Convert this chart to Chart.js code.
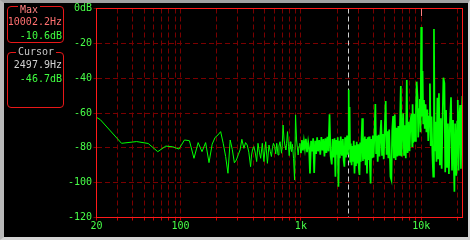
<!DOCTYPE html>
<html><head><meta charset="utf-8">
<script src="https://cdn.jsdelivr.net/npm/chart.js@4"></script>
<style>
html,body{margin:0;padding:0;background:#000;}
#wrap{position:relative;width:470px;height:240px;background:#000;overflow:hidden;font-family:"DejaVu Sans Mono",monospace;font-size:10px;}
#c{position:absolute;left:0;top:0;}
#frame{position:absolute;left:0;top:0;width:470px;height:240px;box-sizing:border-box;border-top:3px solid #a0a0a0;border-left:4px solid #b8b8b8;border-right:2px solid #d4d4d4;border-bottom:3px solid #d4d4d4;pointer-events:none;}
.box{position:absolute;box-sizing:border-box;border:1px solid #e81818;border-radius:4px;}
.ttl{position:absolute;background:#000;padding:0 2px;line-height:12px;white-space:nowrap;}
.ln{position:absolute;right:1px;line-height:12px;white-space:nowrap;}
</style></head>
<body>
<div id="wrap">
  <canvas id="c" width="470" height="240"></canvas>
  <div class="box" style="left:7px;top:6px;width:57px;height:37px;">
    <span class="ttl" style="left:10px;top:-3.5px;color:#ff8080">Max</span>
    <div class="ln" id="maxF" style="top:8.5px;color:#ff7070"></div>
    <div class="ln" id="maxL" style="top:22.5px;color:#40ff40"></div>
  </div>
  <div class="box" style="left:7px;top:52px;width:57px;height:56px;">
    <span class="ttl" style="left:8px;top:-7px;color:#c8c8c8">Cursor</span>
    <div class="ln" id="curF" style="top:5.5px;color:#d0d0d0"></div>
    <div class="ln" id="curL" style="top:19.5px;color:#40ff40"></div>
  </div>
  <div id="frame"></div>
</div>
<script>
// ---- readouts ----
const maxHz = 10002.2, maxDb = -10.6;
const cursorHz = 2497.9, cursorDb = -46.7;

// ---- axes ----
const xMinHz = 20, xMaxHz = 22050;
const yMinDb = -120, yMaxDb = 0, yStepDb = 20;
const xGridHz = [20,30,40,50,60,70,80,90,100,200,300,400,500,600,700,800,900,
  1000,2000,3000,4000,5000,6000,7000,8000,9000,10000,20000];
const xLabelHz = [20, 100, 1000, 10000];
const xLabelText = ['20', '100', '1k', '10k'];
const yLabelDb = [0, -20, -40, -60, -80, -100, -120];
const yLabelText = ['0dB', '-20', '-40', '-60', '-80', '-100', '-120'];

// ---- spectrum: 20 Hz - 1 kHz ----
const lowHz = [20, 21.5, 32.3, 43.1, 53.8, 64.6, 75.4, 86.1, 96.9, 107.7,
 118.4, 129.2, 140, 150.7, 161.5, 172.3, 183, 193.8, 204.6, 215.3,
 226.1, 236.9, 247.6, 258.4, 269.2, 280, 290.7, 301.5, 312.3, 323,
 336, 347, 358, 369, 382, 389, 398, 407, 418, 429,
 440, 452, 463, 478, 493, 510, 527, 543, 556, 569,
 580, 591, 606, 618, 630, 646, 657, 671, 690, 700,
 711, 725, 738, 749, 761, 774, 789, 800, 814, 825,
 836, 850, 869, 886, 903, 921, 935, 949, 965, 981];
const lowDb = [-62.5, -63.8, -77.4, -76.4, -77.5, -82.2, -79.0, -79.4, -80.7, -75.5,
 -75.9, -86.0, -77.0, -82.2, -77.0, -88.5, -77.9, -74.0, -72.6, -70.7,
 -77.4, -85.0, -94.6, -75.5, -81.0, -88.6, -87.0, -84.0, -81.2, -75.1,
 -80.3, -77.0, -78.4, -82.5, -90.8, -84.1, -80.5, -79.3, -83.0, -87.9,
 -77.4, -82.5, -86.0, -77.4, -87.9, -76.5, -88.9, -78.4, -82.0, -85.0,
 -80.0, -77.4, -79.3, -83.5, -77.4, -84.1, -79.0, -76.5, -83.1, -78.5,
 -66.9, -75.5, -79.0, -81.2, -77.5, -70.7, -79.3, -84.5, -76.5, -80.5,
 -82.2, -78.0, -86.0, -98.5, -61.1, -75.5, -80.0, -84.1, -79.0, -77.4];

// ---- spectrum: 1 kHz - 4.2 kHz ----
const midHz = [1000, 1020, 1040, 1060, 1080, 1100, 1125, 1150, 1170, 1190,
 1215, 1240, 1265, 1290, 1315, 1340, 1365, 1390, 1420, 1450,
 1480, 1510, 1540, 1570, 1600, 1630, 1660, 1695, 1730, 1765,
 1806, 1835, 1870, 1905, 1936, 1965, 1995, 2025, 2052, 2080,
 2105, 2145, 2190, 2235, 2265, 2300, 2330, 2370, 2420, 2460,
 2480, 2497.9, 2515, 2540, 2570, 2600, 2640, 2670, 2710, 2750,
 2791, 2835, 2870, 2910, 2950, 2990, 3030, 3072, 3110, 3150,
 3190, 3236, 3280, 3320, 3360, 3400, 3450, 3500, 3544, 3590,
 3640, 3690, 3740, 3798, 3850, 3900, 3960, 4020, 4080, 4160];
const midDb = [-83.0, -75.5, -81.5, -76.0, -80.5, -74.8, -82.5, -76.5, -80.0, -94.7,
 -76.0, -82.0, -74.5, -94.5, -76.0, -83.5, -74.0, -82.0, -75.5, -84.0,
 -73.8, -81.5, -75.0, -85.0, -74.5, -83.0, -73.6, -82.0, -60.8, -84.5,
 -89.5, -75.0, -85.5, -74.5, -96.6, -75.5, -84.0, -74.0, -102.3, -76.0,
 -86.0, -73.5, -84.5, -75.0, -87.0, -90.8, -74.0, -85.5, -73.0, -84.0,
 -74.5, -46.7, -80.5, -56.5, -88.0, -77.5, -90.0, -79.0, -88.0, -76.0,
 -94.7, -78.5, -90.5, -76.5, -89.0, -78.0, -91.5, -95.6, -77.0, -88.0,
 -75.5, -63.0, -87.5, -74.5, -86.0, -73.5, -90.0, -75.0, -94.7, -74.0,
 -87.0, -73.5, -89.0, -100.4, -75.0, -86.0, -73.0, -85.5, -74.0, -54.8];

// ---- spectrum: 4.2 kHz - 22 kHz ----
const highHz = [4220, 4285, 4350, 4420, 4500, 4580, 4650, 4725, 4800, 4880,
 4960, 5070, 5150, 5240, 5330, 5420, 5554, 5655, 5740, 5840,
 5930, 6030, 6130, 6230, 6340, 6450, 6560, 6660, 6770, 6870,
 6980, 7090, 7200, 7320, 7450, 7590, 7720, 7860, 8000, 8160,
 8310, 8420, 8480, 8600, 8750, 8900, 9050, 9170, 9330, 9450,
 9600, 9750, 9880, 10002.2, 10130, 10270, 10400, 10550, 10700, 10880,
 11050, 11250, 11450, 11640, 11820, 12000, 12200, 12400, 12600, 12770,
 12950, 13150, 13400, 13630, 13850, 14050, 14300, 14550, 14800, 15050,
 15300, 15600, 15850, 16100, 16400, 16700, 17000, 17350, 17700, 18050,
 18400, 18880, 19150, 19600, 19900, 20150, 20450, 20750, 21070, 21400,
 21700, 22000, 22050];
const highDb = [-83.0, -73.0, -88.0, -72.5, -85.0, -71.7, -64.0, -84.0, -72.0, -86.5,
 -71.5, -53.1, -84.0, -70.5, -86.0, -69.5, -96.6, -98.5, -70.0, -61.7,
 -86.0, -60.8, -87.0, -68.5, -85.0, -67.5, -84.0, -68.0, -44.5, -85.0,
 -67.5, -60.2, -84.0, -67.0, -86.0, -41.1, -83.0, -65.0, -82.0, -64.0,
 -60.5, -79.0, -55.0, -77.0, -60.5, -76.0, -58.0, -42.0, -51.6, -74.0,
 -57.7, -52.0, -71.0, -10.6, -62.0, -35.9, -66.0, -52.5, -69.0, -55.0,
 -71.0, -58.0, -76.0, -62.0, -43.0, -79.0, -62.0, -84.0, -96.6, -11.8,
 -82.0, -65.0, -88.0, -51.2, -86.0, -48.7, -90.0, -63.0, -92.0, -64.5,
 -39.7, -43.0, -94.0, -58.3, -91.0, -66.0, -95.0, -65.5, -51.0, -93.0,
 -64.0, -105.2, -66.0, -96.0, -65.0, -52.5, -93.0, -62.0, -55.4, -92.0,
 -63.5, -50.2, -61.7];

// ---- build ----
const toPts = (hz, db) => hz.map((f, i) => ({x: f, y: db[i]}));
const lowPts = toPts(lowHz, lowDb).concat(toPts(midHz.slice(0, 1), midDb.slice(0, 1)));
const densePts = toPts(midHz, midDb).concat(toPts(highHz, highDb));

document.getElementById('maxF').textContent = maxHz.toFixed(1) + 'Hz';
document.getElementById('maxL').textContent = maxDb.toFixed(1) + 'dB';
document.getElementById('curF').textContent = cursorHz.toFixed(1) + 'Hz';
document.getElementById('curL').textContent = cursorDb.toFixed(1) + 'dB';

const FONT = {family: '"DejaVu Sans Mono", monospace', size: 10};
const LABEL_GREEN = '#48ff48';
const GRID = '#7a0000';

const overlay = {
  id: 'overlay',
  beforeDatasetsDraw(chart) {
    const {ctx, chartArea: a, scales: {x}} = chart;
    const cx = Math.floor(x.getPixelForValue(cursorHz)) + 0.5;
    ctx.save();
    ctx.strokeStyle = '#d0d0d0'; ctx.lineWidth = 1; ctx.setLineDash([5, 3]);
    ctx.beginPath(); ctx.moveTo(cx, a.top); ctx.lineTo(cx, a.bottom); ctx.stroke();
    ctx.restore();
  },
  afterDatasetsDraw(chart) {
    const {ctx, chartArea: a, scales: {x}} = chart;
    ctx.save();
    ctx.lineWidth = 1;
    ctx.strokeStyle = '#ff1a1a';
    const l = Math.floor(a.left), t = Math.floor(a.top), r = Math.floor(a.right), b = Math.floor(a.bottom);
    ctx.strokeRect(l + 0.5, t + 0.5, r - l, b - t);
    const mx = Math.floor(x.getPixelForValue(maxHz)) + 0.5;
    ctx.strokeStyle = '#ff8080';
    ctx.beginPath(); ctx.moveTo(mx, t + 0.5); ctx.lineTo(mx, t + 8); ctx.stroke();
    ctx.restore();
  }
};

new Chart(document.getElementById('c'), {
  type: 'line',
  data: {
    datasets: [{
      data: lowPts,
      borderColor: '#00ff00',
      borderWidth: 1,
      pointRadius: 0,
      tension: 0,
      fill: false
    }, {
      data: densePts,
      borderColor: '#00ff00',
      borderWidth: 1.7,
      pointRadius: 0,
      tension: 0,
      fill: false
    }]
  },
  options: {
    responsive: false,
    animation: false,
    devicePixelRatio: 1,
    layout: {padding: {left: 0, top: 8.5, right: 7.5, bottom: 0}},
    plugins: {legend: {display: false}, tooltip: {enabled: false}},
    scales: {
      x: {
        type: 'logarithmic',
        min: xMinHz, max: xMaxHz,
        afterFit(s) { s.height = 22.5; },
        afterBuildTicks(s) { s.ticks = xGridHz.map(v => ({value: v})); },
        border: {display: false, dash: [5, 3]},
        grid: {color: GRID, lineWidth: 1, drawTicks: true, tickLength: 3, tickColor: '#cc0000', tickBorderDash: []},
        ticks: {
          autoSkip: false, maxRotation: 0, minRotation: 0, padding: 0,
          color: LABEL_GREEN, font: FONT,
          callback(v) { const i = xLabelHz.indexOf(v); return i >= 0 ? xLabelText[i] : ''; }
        }
      },
      y: {
        type: 'linear',
        min: yMinDb, max: yMaxDb,
        afterFit(s) { s.width = 96.5; },
        border: {display: false, dash: [5, 3]},
        grid: {color: GRID, lineWidth: 1, drawTicks: true, tickLength: 3, tickColor: GRID, tickBorderDash: []},
        ticks: {
          stepSize: yStepDb, padding: 1.5, color: LABEL_GREEN, font: FONT,
          callback(v) { const i = yLabelDb.indexOf(v); return i >= 0 ? yLabelText[i] : ''; }
        }
      }
    }
  },
  plugins: [overlay]
});
</script>
</body></html>
